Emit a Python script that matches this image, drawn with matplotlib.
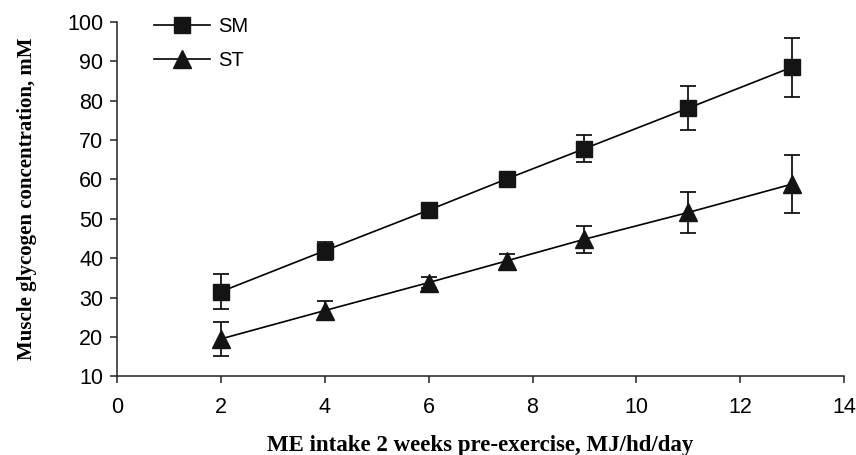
import matplotlib
matplotlib.use("Agg")
import matplotlib.pyplot as plt
from matplotlib.lines import Line2D

intake = [2, 4, 6, 7.5, 9, 11, 13]
sm_mean = [31.5, 41.9, 52.2, 60.1, 67.8, 78.1, 88.5]
sm_err = [4.4, 2.3, 0.9, 0.9, 3.4, 5.5, 7.5]
st_mean = [19.5, 26.7, 33.8, 39.3, 44.8, 51.6, 58.8]
st_err = [4.4, 2.4, 1.5, 1.8, 3.4, 5.3, 7.3]

fig = plt.figure(figsize=(8.56, 4.55), dpi=100)
ax = fig.add_axes([0.137, 0.173, 0.849, 0.779])

mk = '#141414'
ax.errorbar(intake, sm_mean, yerr=sm_err, color='black', lw=1.2, marker='s',
            ms=12, mfc=mk, mec=mk, capsize=6, elinewidth=1.2, capthick=1.2)
ax.errorbar(intake, st_mean, yerr=st_err, color='black', lw=1.2, marker='^',
            ms=13, mfc=mk, mec=mk, capsize=6, elinewidth=1.2, capthick=1.2)

ax.set_xlim(0, 14)
ax.set_ylim(10, 100)
ax.set_xticks(range(0, 15, 2))
ax.set_yticks(range(10, 101, 10))
for side in ['top', 'right']:
    ax.spines[side].set_visible(False)
for side in ['left', 'bottom']:
    ax.spines[side].set_color('#222222')
    ax.spines[side].set_linewidth(1.1)
ax.tick_params(direction='out', length=5, width=1.1, color='#222222',
               labelsize=15.5, pad=5)
for lab in ax.get_xticklabels() + ax.get_yticklabels():
    lab.set_family('Liberation Sans')
ax.tick_params(axis='x', pad=10)

ax.set_xlabel('ME intake 2 weeks pre-exercise, MJ/hd/day', family='Liberation Serif',
              fontweight='bold', fontsize=16.5, labelpad=12)
ax.set_ylabel('Muscle glycogen concentration, mM', family='Liberation Serif',
              fontweight='bold', fontsize=15, labelpad=22)

handles = [Line2D([], [], color='black', lw=1.2, marker='s', ms=12, mfc=mk, mec=mk),
           Line2D([], [], color='black', lw=1.2, marker='^', ms=13, mfc=mk, mec=mk)]
ax.legend(handles, ['SM', 'ST'], loc='upper left', bbox_to_anchor=(0.025, 1.065),
          frameon=False, handlelength=2.8, labelspacing=0.75, handletextpad=0.4,
          prop={'family': 'Liberation Sans', 'size': 14.5})

fig.savefig('out.png', dpi=100)
